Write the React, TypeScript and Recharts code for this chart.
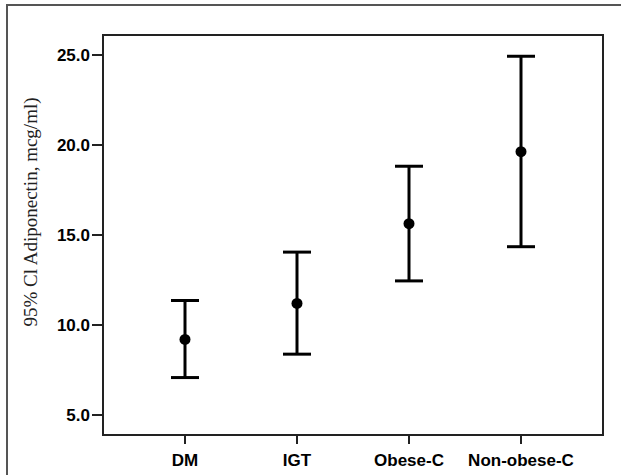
import React from 'react';
import { ComposedChart, Scatter, ErrorBar, XAxis, YAxis } from 'recharts';

const groups = ['DM', 'IGT', 'Obese-C', 'Non-obese-C'];
const means = [9.2, 11.2, 15.63, 19.63];
const lowerCI = [7.08, 8.38, 12.45, 14.35];
const upperCI = [11.36, 14.05, 18.82, 24.93];
const yTicks = [5, 10, 15, 20, 25];
const yDomain = [3.889, 26.111];

const data = groups.map((name, i) => ({
  name,
  mean: means[i],
  err: [means[i] - lowerCI[i], upperCI[i] - means[i]],
}));

const tickFont = { fontFamily: 'Liberation Sans, Arial, sans-serif', fontWeight: 700, fontSize: 17, fill: '#000' };
const frame = '#222';

const Dot = (props: any) => <circle cx={props.cx} cy={props.cy} r={5.5} fill="#000" />;

const YLabel = () => (
  <text
    x={30}
    y={212}
    transform="rotate(-90 30 212)"
    textAnchor="middle"
    dominantBaseline="central"
    fontFamily="Liberation Serif, Times New Roman, serif"
    fontSize={19}
    fill="#222"
  >
    95% Cl Adiponectin, mcg/ml)
  </text>
);

const App = () => {
  return (
    <div style={{ position: 'absolute', left: 0, top: 0, width: 621, height: 475, overflow: 'hidden', background: '#fff' }}>
      <div style={{ position: 'absolute', left: 6, top: 4, width: 700, height: 600, border: '2px solid #555' }} />
      <ComposedChart
        width={621}
        height={475}
        data={data}
        margin={{ top: 35, right: 18, bottom: 10, left: 43 }}
        style={{ position: 'absolute', left: 0, top: 0 }}
      >
        <XAxis
          dataKey="name"
          scale="point"
          padding={{ left: 82, right: 82 }}
          height={30}
          tickSize={9}
          tickMargin={10}
          tick={tickFont}
          axisLine={{ stroke: frame, strokeWidth: 2 }}
          tickLine={{ stroke: frame, strokeWidth: 2 }}
        />
        <YAxis
          domain={yDomain}
          allowDataOverflow
          ticks={yTicks}
          tickFormatter={(v: number) => v.toFixed(1)}
          width={60}
          tickSize={11}
          tickMargin={2}
          tick={tickFont}
          axisLine={{ stroke: frame, strokeWidth: 2 }}
          tickLine={{ stroke: frame, strokeWidth: 2 }}
          label={{ content: YLabel }}
        />
        <Scatter dataKey="mean" shape={Dot} isAnimationActive={false}>
          <ErrorBar dataKey="err" direction="y" width={14} stroke="#000" strokeWidth={3} isAnimationActive={false} />
        </Scatter>
      </ComposedChart>
      {/* plot frame */}
      <div
        style={{
          position: 'absolute',
          left: 102,
          top: 34,
          width: 502,
          height: 402,
          boxSizing: 'border-box',
          border: `2px solid ${frame}`,
          pointerEvents: 'none',
        }}
      />
    </div>
  );
};

export default App;
